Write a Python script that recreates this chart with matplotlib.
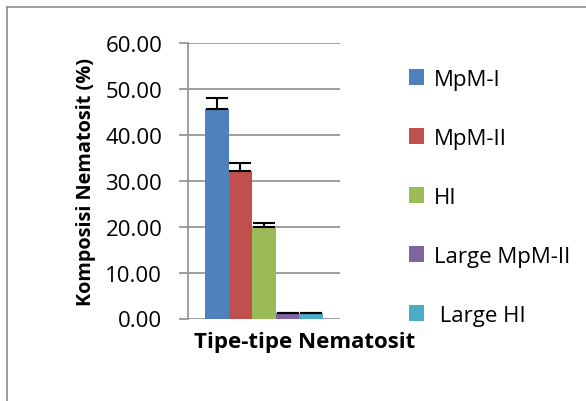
import matplotlib
matplotlib.use("Agg")
import matplotlib.pyplot as plt
from matplotlib.lines import Line2D
from matplotlib.patches import Patch

categories = ["MpM-I", "MpM-II", "HI", "Large MpM-II", " Large HI"]
values = [45.6, 32.1, 19.9, 1.1, 1.1]
errors = [2.4, 1.8, 1.0, 0.2, 0.2]
colors = ["#4F81BD", "#C0504D", "#9BBB59", "#8064A2", "#4BACC6"]
yticks = [0, 10, 20, 30, 40, 50, 60]

plt.rcParams['font.family'] = ['Open Sans', 'DejaVu Sans']
W, H = 586, 402
fig = plt.figure(figsize=(W / 100, H / 100), dpi=100)
ax = fig.add_axes([188 / W, (H - 319.5) / H, (340 - 188) / W, (319.5 - 44) / H])

x = list(range(len(categories)))
ax.bar(x, values, width=1.0, color=colors, zorder=3,
       yerr=[[0] * len(errors), errors], capsize=8,
       error_kw=dict(ecolor="black", elinewidth=1.5, capthick=1.5, zorder=4))

ax.set_xlim(-1.22, 5.22)
ax.set_ylim(0, 60)
ax.set_yticks(yticks)
ax.set_yticklabels([f"{v:.2f}" for v in yticks], fontsize=16)
ax.set_xticks([])
ax.yaxis.grid(True, color="#969696", linewidth=1.3, zorder=0)
for s in ["top", "right", "bottom"]:
    ax.spines[s].set_visible(False)
ax.spines["left"].set_color("#969696")
ax.spines["left"].set_linewidth(1.3)
ax.tick_params(axis="y", length=6.5, width=1.3, color="#969696", pad=12)
ax.set_ylabel("Komposisi Nematosit (%)", fontsize=14.3, fontweight="bold", labelpad=7)
ax.set_xlabel("Tipe-tipe Nematosit", fontsize=16, fontweight="bold", va="center")
ax.xaxis.set_label_coords((305 - 188) / 152, -(343 - 319.5) / 275.5)

handles = [Patch(facecolor=c, edgecolor="none") for c in colors]
fig.legend(handles, categories, loc="upper left", bbox_to_anchor=(400 / W, 1 - 61 / H),
           frameon=False, fontsize=16, handlelength=0.68, handleheight=0.68,
           handletextpad=0.45, labelspacing=1.71, borderaxespad=0)

# outer chart frame
fig.add_artist(Line2D([6.5 / W, 6.5 / W], [0, 1 - 7.5 / H], transform=fig.transFigure,
                      color="#8c8c8c", linewidth=1.2))
fig.add_artist(Line2D([6.5 / W, 1], [1 - 7.5 / H, 1 - 7.5 / H], transform=fig.transFigure,
                      color="#8c8c8c", linewidth=1.2))

fig.savefig("out.png", dpi=100)
